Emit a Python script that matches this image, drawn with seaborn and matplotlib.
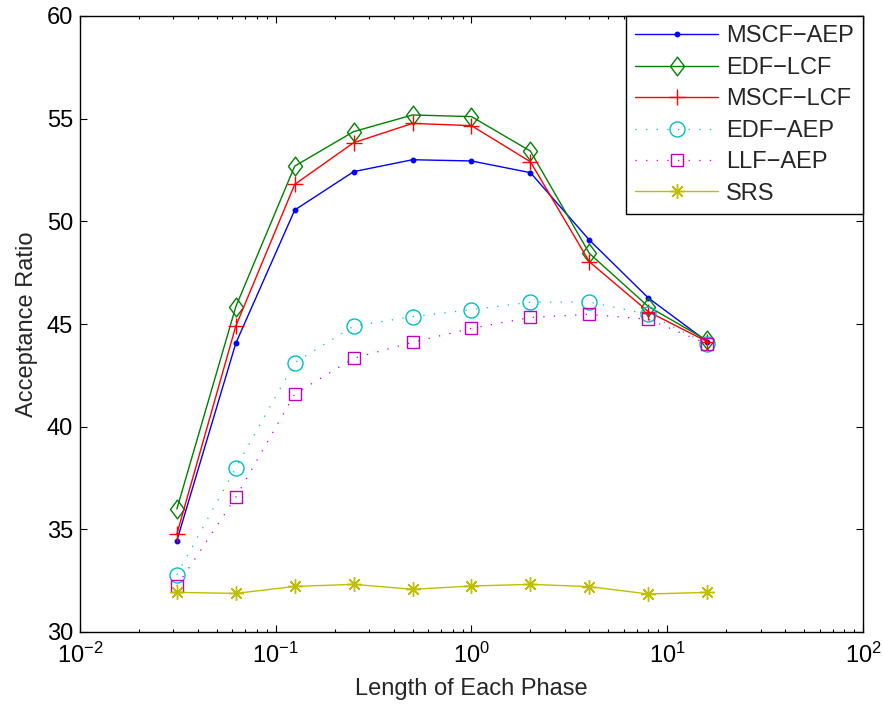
import matplotlib
matplotlib.use("Agg")
import matplotlib.pyplot as plt
from matplotlib.path import Path
import seaborn as sns

# Phase lengths (log-spaced) and acceptance ratios of each scheduler
phase_len = [0.03125, 0.0625, 0.125, 0.25, 0.5, 1, 2, 4, 8, 16]
mscf_aep = [34.45, 44.06, 50.55, 52.42, 53.00, 52.94, 52.37, 49.09, 46.27, 44.14]
edf_lcf = [35.99, 45.84, 52.69, 54.37, 55.18, 55.10, 53.42, 48.44, 45.85, 44.20]
mscf_lcf = [34.77, 44.90, 51.80, 53.83, 54.77, 54.66, 52.90, 48.03, 45.60, 44.14]
edf_aep = [32.79, 38.00, 43.12, 44.90, 45.36, 45.70, 46.06, 46.07, 45.47, 44.03]
llf_aep = [32.24, 36.56, 41.59, 43.33, 44.11, 44.79, 45.32, 45.47, 45.23, 44.03]
srs = [31.93, 31.88, 32.22, 32.32, 32.08, 32.24, 32.32, 32.21, 31.85, 31.93]

series_names = ["MSCF\u2212AEP", "EDF\u2212LCF", "MSCF\u2212LCF", "EDF\u2212AEP", "LLF\u2212AEP", "SRS"]
x_ticks = [1e-2, 1e-1, 1e0, 1e1, 1e2]
y_ticks = [30, 35, 40, 45, 50, 55, 60]

FS = 17

sns.set_theme(style="ticks")
plt.rcParams["font.family"] = ["Liberation Sans", "DejaVu Sans"]
plt.rcParams["mathtext.fontset"] = "custom"
plt.rcParams["mathtext.rm"] = "Liberation Sans"
plt.rcParams["mathtext.it"] = "Liberation Sans"
plt.rcParams["mathtext.bf"] = "Liberation Sans"
plt.rcParams["lines.scale_dashes"] = True

fig = plt.figure(figsize=(8.83, 7.04), dpi=100)
ax = fig.add_axes([80 / 883, 1 - 632 / 704, (863 - 80) / 883, (632 - 16) / 704])

# tall open diamond and 8-spoke asterisk markers
diamond = Path([(0, 1), (0.75, 0), (0, -1), (-0.75, 0), (0, 1)],
               [Path.MOVETO, Path.LINETO, Path.LINETO, Path.LINETO, Path.CLOSEPOLY])
asterisk = (8, 2, 0)

dotted = (0, (1, 7.5))
styles = [
    dict(y=mscf_aep, color=(0, 0, 1), marker="o", ms=3.2, ls="-", lw=1.0, fill=True),
    dict(y=edf_lcf, color=(0, 0.5, 0), marker=diamond, ms=13.5, ls="-", lw=1.0, fill=False),
    dict(y=mscf_lcf, color=(1, 0, 0), marker="+", ms=11, ls="-", lw=1.0, fill=False),
    dict(y=edf_aep, color=(0, 0.75, 0.75), marker="o", ms=10.8, ls=dotted, lw=0.9, fill=False),
    dict(y=llf_aep, color=(0.75, 0, 0.75), marker="s", ms=8.8, ls=dotted, lw=0.9, fill=False),
    dict(y=srs, color=(0.75, 0.75, 0), marker=asterisk, ms=10.5, ls="-", lw=1.0, fill=False),
]

for name, st in zip(series_names, styles):
    sns.lineplot(
        x=phase_len, y=st["y"], ax=ax, label=name,
        color=st["color"], marker=st["marker"], markersize=st["ms"],
        linestyle=st["ls"], linewidth=st["lw"],
        markeredgecolor=st["color"], markeredgewidth=1.0,
        markerfacecolor=st["color"] if st["fill"] else "none",
        sort=False, estimator=None,
    )

ax.set_xscale("log")
ax.set_xlim(1e-2, 1e2)
ax.set_ylim(30, 60)
ax.set_xticks(x_ticks)
ax.set_yticks(y_ticks)

ax.tick_params(which="both", direction="in", top=True, right=True, colors="black")
ax.tick_params(which="major", length=5, width=0.8, labelsize=FS)
ax.tick_params(which="minor", length=2.5, width=0.8)
ax.tick_params(axis="x", which="major", pad=8)
ax.tick_params(axis="y", which="major", pad=5)
for sp in ax.spines.values():
    sp.set_visible(True)
    sp.set_linewidth(1.0)
    sp.set_color("black")

ax.set_xlabel("Length of Each Phase", fontsize=FS, labelpad=7)
ax.set_ylabel("Acceptance Ratio", fontsize=FS, labelpad=6)

leg = ax.legend(loc="upper right", fontsize=FS, frameon=True, fancybox=False,
                framealpha=1, edgecolor="black", borderaxespad=0,
                borderpad=0.4, labelspacing=0.4, handlelength=3.5,
                handletextpad=0.33, numpoints=1)
leg.get_frame().set_linewidth(1.0)

fig.savefig("out.png", dpi=100, facecolor="white")
